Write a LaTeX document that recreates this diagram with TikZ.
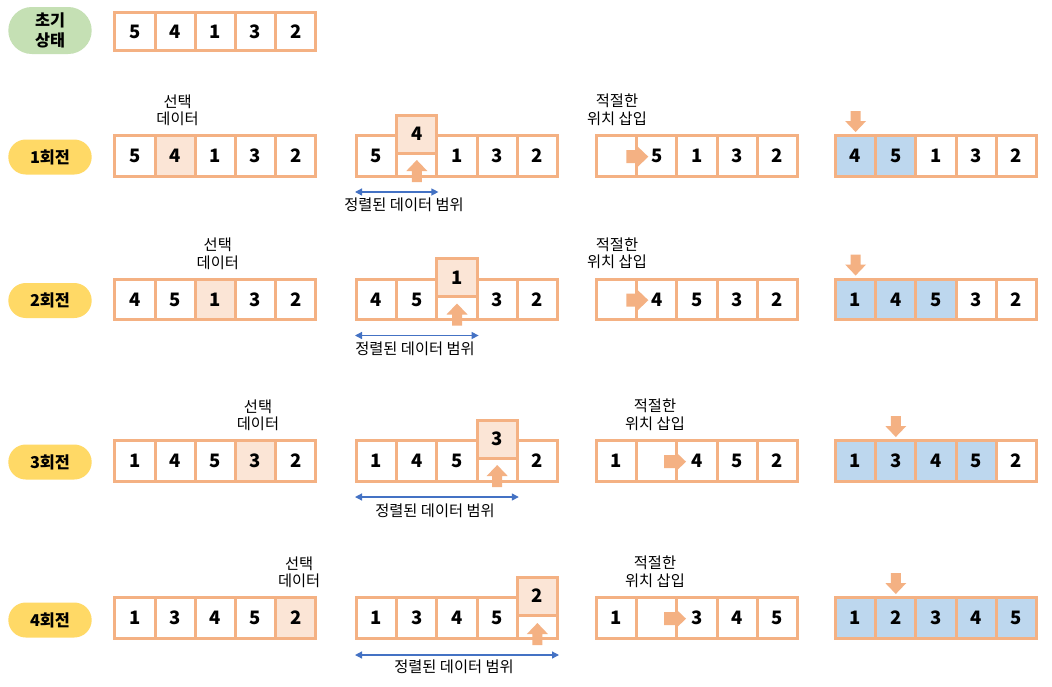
\documentclass[tikz,border=0pt]{standalone}
\usepackage{fontspec}
\setmainfont{Noto Sans CJK KR}
\usetikzlibrary{arrows.meta,calc,shapes.misc}
\definecolor{cellbd}{HTML}{F4B183}
\definecolor{selfill}{HTML}{FBE5D6}
\definecolor{donefill}{HTML}{BDD7EE}
\definecolor{rangec}{HTML}{4472C4}
\definecolor{startc}{HTML}{C5E0B4}
\definecolor{roundc}{HTML}{FFD966}
\newcommand\numfont{\bfseries\fontsize{18.5}{20}\selectfont}
\newcommand\lblfont{\fontsize{15.3}{17.5}\selectfont}
\newcommand\drawarr[8]{%
 \foreach \v [count=\i] in {#4}{%
  \ifnum\i<#5\relax\def\cf{white}\else\ifnum\i>#6\relax\def\cf{white}\else\def\cf{#7}\fi\fi
  \node[cellbox,fill=\cf,minimum height=#8] (#1\i) at ({#2+40.2*(\i-0.5)},#3) {\v};
 }}
\tikzset{
 uparr/.pic={\fill[cellbd] (0,0) -- (10.5,11) -- (5,11) -- (5,22) -- (-5,22) -- (-5,11) -- (-10.5,11) -- cycle;},
 downarr/.pic={\fill[cellbd] (0,0) -- (10.5,-11) -- (5,-11) -- (5,-21) -- (-5,-21) -- (-5,-11) -- (-10.5,-11) -- cycle;},
 rightarr/.pic={\fill[cellbd] (0,0) -- (-11,10.5) -- (-11,6.5) -- (-22,6.5) -- (-22,-6.5) -- (-11,-6.5) -- (-11,-10.5) -- cycle;},
}
\begin{document}
\begin{tikzpicture}[x=1pt,y=-1pt,
 cellbox/.style={draw=cellbd,line width=3pt,minimum width=40.2pt,inner sep=0pt,font=\numfont},
 pill/.style={rounded rectangle,minimum width=83.4pt,minimum height=35pt,inner sep=0pt,font=\bfseries\fontsize{16.3}{20}\selectfont,align=center},
 lbl/.style={font=\lblfont,align=center,inner sep=0pt},
 rangearr/.style={draw=rangec,line width=1.3pt,{Triangle[length=7pt,width=7pt]}-{Triangle[length=7pt,width=7pt]}}]
\useasboundingbox (0,0) rectangle (1052,686);
\fill[white] (0,0) rectangle (1052,686);

% initial state
\node[pill,fill=startc,minimum height=47pt] (p0) at (50,30.5) {초기\\상태};
\drawarr{a0-}{114.8}{31.5}{5,4,1,3,2}{9}{9}{white}{38.6pt}

% round 1
\node[pill,fill=roundc] (p1) at (50,157) {1회전};
\drawarr{a1-}{114.8}{156}{5,4,1,3,2}{2}{2}{selfill}{40.5pt}
\node[lbl] (s1) at ($(a1-2)+(2.5,-45.5)$) {선택\\데이터};
\drawarr{m1-}{356.5}{156}{5,{},1,3,2}{9}{9}{white}{40.5pt}
\node[cellbox,fill=selfill,minimum height=38pt] (r1) at ($(m1-2)+(0,-22)$) {4};
\pic at ($(m1-2)+(0,4)$) {uparr};
\draw[rangearr] ($(m1-1.west)+(0,36)$) -- ($(m1-2.east)+(0,36)$);
\node[lbl] (g1) at (404,205) {정렬된 데이터 범위};
\drawarr{i1-}{596.5}{156}{{},5,1,3,2}{9}{9}{white}{40.5pt}
\pic at (648.3,156.7) {rightarr};
\node[lbl] (t1) at (617,110) {적절한\\위치 삽입};
\drawarr{f1-}{835.5}{156}{4,5,1,3,2}{1}{2}{donefill}{40.5pt}
\pic at ($(f1-1)+(0,-24)$) {downarr};

% round 2
\node[pill,fill=roundc] (p2) at (50,300.5) {2회전};
\drawarr{a2-}{114.8}{299.5}{4,5,1,3,2}{3}{3}{selfill}{40.5pt}
\node[lbl] (s2) at ($(a2-3)+(2.5,-45.5)$) {선택\\데이터};
\drawarr{m2-}{356.5}{299.5}{4,5,{},3,2}{9}{9}{white}{40.5pt}
\node[cellbox,fill=selfill,minimum height=38pt] (r2) at ($(m2-3)+(0,-22)$) {1};
\pic at ($(m2-3)+(0,4)$) {uparr};
\draw[rangearr] ($(m2-1.west)+(0,36)$) -- ($(m2-3.east)+(0,36)$);
\node[lbl] (g2) at (415,348.5) {정렬된 데이터 범위};
\drawarr{i2-}{596.5}{299.5}{{},4,5,3,2}{9}{9}{white}{40.5pt}
\pic at (648.3,300.2) {rightarr};
\node[lbl] (t2) at (617,253.5) {적절한\\위치 삽입};
\drawarr{f2-}{835.5}{299.5}{1,4,5,3,2}{1}{3}{donefill}{40.5pt}
\pic at ($(f2-1)+(0,-24)$) {downarr};

% round 3
\node[pill,fill=roundc] (p3) at (50,462) {3회전};
\drawarr{a3-}{114.8}{461}{1,4,5,3,2}{4}{4}{selfill}{40.5pt}
\node[lbl] (s3) at ($(a3-4)+(2.5,-45.5)$) {선택\\데이터};
\drawarr{m3-}{356.5}{461}{1,4,5,{},2}{9}{9}{white}{40.5pt}
\node[cellbox,fill=selfill,minimum height=38pt] (r3) at ($(m3-4)+(0,-22)$) {3};
\pic at ($(m3-4)+(0,4)$) {uparr};
\draw[rangearr] ($(m3-1.west)+(0,36)$) -- ($(m3-4.east)+(0,36)$);
\node[lbl] (g3) at (435,511) {정렬된 데이터 범위};
\drawarr{i3-}{596.5}{461}{1,{},4,5,2}{9}{9}{white}{40.5pt}
\pic at (686,461.7) {rightarr};
\node[lbl] (t3) at (655,415) {적절한\\위치 삽입};
\drawarr{f3-}{835.5}{461}{1,3,4,5,2}{1}{4}{donefill}{40.5pt}
\pic at ($(f3-2)+(0,-24)$) {downarr};

% round 4
\node[pill,fill=roundc] (p4) at (50,620) {4회전};
\drawarr{a4-}{114.8}{618}{1,3,4,5,2}{5}{5}{selfill}{40.5pt}
\node[lbl] (s4) at ($(a4-5)+(3.5,-45.5)$) {선택\\데이터};
\drawarr{m4-}{356.5}{618}{1,3,4,5,{}}{9}{9}{white}{40.5pt}
\node[cellbox,fill=selfill,minimum height=38pt] (r4) at ($(m4-5)+(0,-22)$) {2};
\pic at ($(m4-5)+(0,5)$) {uparr};
\draw[rangearr] ($(m4-1.west)+(0,37)$) -- ($(m4-5.east)+(0,37)$);
\node[lbl] (g4) at (454,667) {정렬된 데이터 범위};
\drawarr{i4-}{596.5}{618}{1,{},3,4,5}{9}{9}{white}{40.5pt}
\pic at (686,618.7) {rightarr};
\node[lbl] (t4) at (655,572) {적절한\\위치 삽입};
\drawarr{f4-}{835.5}{618}{1,2,3,4,5}{1}{5}{donefill}{40.5pt}
\pic at ($(f4-2)+(0,-24)$) {downarr};
\end{tikzpicture}
\end{document}
